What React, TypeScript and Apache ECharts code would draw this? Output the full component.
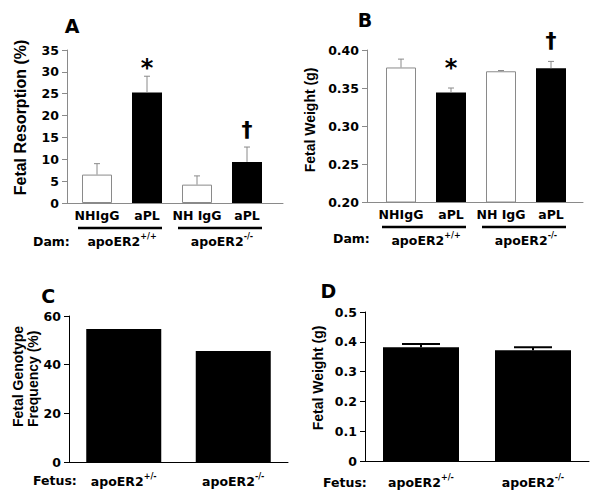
import React, { useEffect, useRef } from 'react';
import * as echarts from 'echarts';

const SANS = '"DejaVu Sans", sans-serif';
const ARIAL = '"Liberation Sans", Arial, sans-serif';
const GREY = '#8a8a8a';

// ---- Panel A: fetal resorption (%) by dam genotype / treatment ----
const aCategories = ['NHIgG', 'aPL', 'NH IgG', 'aPL'];
const aValues = [6.5, 25.3, 4.2, 9.4];
const aErrors = [2.5, 3.7, 2.0, 3.4];
const aMarkSymbols = ['*', '\u2020'];
const aMarkCats = [2, 4];
const aMarkY = [30.9, 16.9];

// ---- Panel B: fetal weight (g) by dam genotype / treatment ----
const bCategories = ['NHIgG', 'aPL', 'NH IgG', 'aPL'];
const bValues = [0.377, 0.344, 0.372, 0.376];
const bErrors = [0.011, 0.006, 0.001, 0.009];
const bMarkSymbols = ['*', '\u2020'];
const bMarkCats = [2, 4];
const bMarkY = [0.3766, 0.4125];

// dam genotype groups (superscripts of apoER2)
const damGroups = ['+/+', '-/-'];

// ---- Panel C: fetal genotype frequency (%) ----
const fetusGenotypes = ['+/-', '-/-'];
const cValues = [54.7, 45.6];

// ---- Panel D: fetal weight (g) by fetal genotype ----
const dValues = [0.382, 0.372];
const dErrors = [0.011, 0.010];

const tickFont = { color: '#000', fontFamily: SANS, fontWeight: 'bold' as const, fontSize: 12.5 };

const richSup = {
  b: { fontFamily: SANS, fontWeight: 'bold', fontSize: 12.5, color: '#000', lineHeight: 18 },
  s: { fontFamily: SANS, fontWeight: 'bold', fontSize: 8, color: '#000', lineHeight: 9, verticalAlign: 'top' },
};
const supText = (s: string) => `{b|apoER2}{s|${s}}`;

const fillFor = (name: string) =>
  name.startsWith('NH')
    ? { color: '#fff', borderColor: GREY, borderWidth: 1 }
    : { color: '#000' };

function yAxis(gridIndex: number, min: number, max: number, interval: number, color: string, fmt: (v: number) => string) {
  return {
    gridIndex, type: 'value', min, max, interval,
    axisLine: { show: true, lineStyle: { color, width: 1 } },
    axisTick: { show: true, inside: false, length: 5, lineStyle: { color } },
    splitLine: { show: false },
    axisLabel: { ...tickFont, margin: 8, formatter: fmt },
  };
}

function errorSeries(xi: number, data: number[][], color: string, cap: number, width: number) {
  return {
    type: 'custom', xAxisIndex: xi, yAxisIndex: xi, z: 5,
    encode: { x: 0, y: 1 },
    data,
    renderItem: (_p: any, api: any) => {
      const x = api.value(0), v = api.value(1), e = api.value(2);
      const b = api.coord([x, v]);
      const t = api.coord([x, v + e]);
      return {
        type: 'group',
        children: [
          { type: 'line', shape: { x1: b[0], y1: b[1], x2: t[0], y2: t[1] }, style: { stroke: color, lineWidth: width } },
          { type: 'line', shape: { x1: t[0] - cap / 2, y1: t[1], x2: t[0] + cap / 2, y2: t[1] }, style: { stroke: color, lineWidth: width } },
        ],
      };
    },
  };
}

function markSeries(xi: number, cats: number[], ys: number[], symbols: string[]) {
  return {
    type: 'custom', xAxisIndex: xi, yAxisIndex: xi, z: 6,
    encode: { x: 0, y: 1 },
    data: cats.map((c, i) => [c, ys[i]]),
    renderItem: (p: any, api: any) => {
      const pt = api.coord([api.value(0), api.value(1)]);
      const sym = symbols[p.dataIndex];
      const size = sym === '*' ? 24 : 22;
      return {
        type: 'text', x: pt[0], y: pt[1],
        style: {
          text: sym, fill: '#000', font: `bold ${size}px ${SANS}`,
          align: 'center', verticalAlign: 'middle', textAlign: 'center', textVerticalAlign: 'middle',
        },
      };
    },
  };
}

function groupSeries(xi: number, yBase: number) {
  return {
    type: 'custom', xAxisIndex: xi, yAxisIndex: xi, z: 6,
    encode: { x: 0, y: 1 },
    data: damGroups.map((_g, i) => [2 * i + 1.5, yBase]),
    renderItem: (p: any, api: any) => {
      const gi = p.dataIndex;
      const s = api.coord([2 * gi + 1 - 0.38, yBase]);
      const e = api.coord([2 * gi + 2 + 0.3, yBase]);
      const c = api.coord([api.value(0), yBase]);
      return {
        type: 'group',
        children: [
          { type: 'line', shape: { x1: s[0], y1: s[1] + 25, x2: e[0], y2: e[1] + 25 }, style: { stroke: '#000', lineWidth: 2.6 } },
          {
            type: 'text', x: c[0], y: c[1] + 38,
            style: {
              text: supText(damGroups[gi]), rich: richSup, fill: '#000',
              align: 'center', verticalAlign: 'middle', textAlign: 'center', textVerticalAlign: 'middle',
            },
          },
        ],
      };
    },
  };
}

function txt(text: string, x: number, y: number, font: string, extra: any = {}) {
  return {
    type: 'text', x, y, ...extra,
    style: {
      text, font, fill: '#000',
      align: extra.align || 'center', verticalAlign: 'middle',
      textAlign: extra.align || 'center', textVerticalAlign: 'middle',
      lineHeight: extra.lineHeight,
    },
  };
}

export default function App() {
  const ref = useRef<HTMLDivElement>(null);
  useEffect(() => {
    if (!ref.current) return;
    const chart = echarts.init(ref.current, undefined, { renderer: 'svg' });
    const option: any = {
      animation: false,
      backgroundColor: '#fff',
      grid: [
        { left: 67, top: 50, width: 216, height: 153, outerBoundsMode: 'none' },
        { left: 367, top: 50, width: 216, height: 152, outerBoundsMode: 'none' },
        { left: 69, top: 316, width: 219, height: 146, outerBoundsMode: 'none' },
        { left: 365, top: 312, width: 224, height: 149, outerBoundsMode: 'none' },
      ],
      xAxis: [
        {
          gridIndex: 0, type: 'value', min: 0.4, max: 4.72,
          axisLine: { show: true, onZero: false, lineStyle: { color: GREY } },
          axisTick: { show: false }, splitLine: { show: false },
          axisLabel: { ...tickFont, margin: 6, customValues: [1, 2, 3, 4], formatter: (v: number) => aCategories[Math.round(v) - 1] },
        },
        {
          gridIndex: 1, type: 'value', min: 0.32, max: 4.64,
          axisLine: { show: true, onZero: false, lineStyle: { color: GREY } },
          axisTick: { show: false }, splitLine: { show: false },
          axisLabel: { ...tickFont, margin: 6, customValues: [1, 2, 3, 4], formatter: (v: number) => bCategories[Math.round(v) - 1] },
        },
        {
          gridIndex: 2, type: 'category', data: fetusGenotypes,
          axisLine: { show: true, onZero: false, lineStyle: { color: '#000' } },
          axisTick: { show: false },
          axisLabel: { interval: 0, hideOverlap: false, margin: 10, formatter: (v: string) => supText(v), rich: richSup },
        },
        {
          gridIndex: 3, type: 'category', data: fetusGenotypes,
          axisLine: { show: true, onZero: false, lineStyle: { color: '#000' } },
          axisTick: { show: false },
          axisLabel: { interval: 0, hideOverlap: false, margin: 12, formatter: (v: string) => supText(v), rich: richSup },
        },
      ],
      yAxis: [
        yAxis(0, 0, 35, 5, GREY, (v) => String(v)),
        yAxis(1, 0.2, 0.4, 0.05, GREY, (v) => v.toFixed(2)),
        yAxis(2, 0, 60, 20, '#000', (v) => String(v)),
        yAxis(3, 0, 0.5, 0.1, '#000', (v) => (v === 0 ? '0' : v.toFixed(1))),
      ],
      series: [
        {
          type: 'bar', xAxisIndex: 0, yAxisIndex: 0, barWidth: 30,
          data: aValues.map((v, i) => ({ value: [i + 1, v], itemStyle: fillFor(aCategories[i]) })),
        },
        errorSeries(0, aValues.map((v, i) => [i + 1, v, aErrors[i]]), GREY, 6, 1),
        markSeries(0, aMarkCats, aMarkY, aMarkSymbols),
        groupSeries(0, 0),
        {
          type: 'bar', xAxisIndex: 1, yAxisIndex: 1, barWidth: 30,
          data: bValues.map((v, i) => ({ value: [i + 1, v], itemStyle: fillFor(bCategories[i]) })),
        },
        errorSeries(1, bValues.map((v, i) => [i + 1, v, bErrors[i]]), GREY, 6, 1),
        markSeries(1, bMarkCats, bMarkY, bMarkSymbols),
        groupSeries(1, 0.2),
        {
          type: 'bar', xAxisIndex: 2, yAxisIndex: 2, barWidth: 75,
          itemStyle: { color: '#000' },
          data: cValues,
        },
        {
          type: 'bar', xAxisIndex: 3, yAxisIndex: 3, barWidth: 76,
          itemStyle: { color: '#000' },
          data: dValues,
        },
        errorSeries(3, dValues.map((v, i) => [i, v, dErrors[i]]), '#000', 38, 2),
      ],
      graphic: [
        txt('A', 72, 26, `bold 19px ${SANS}`),
        txt('B', 365, 20, `bold 19px ${SANS}`),
        txt('C', 48.3, 296.3, `bold 19px ${SANS}`),
        txt('D', 328.3, 291, `bold 19px ${SANS}`),
        txt('Fetal Resorption (%)', 20, 117.5, `bold 16px ${ARIAL}`, { rotation: Math.PI / 2 }),
        txt('Fetal Weight (g)', 309.5, 120, `bold 14px ${ARIAL}`, { rotation: Math.PI / 2 }),
        txt('Fetal Genotype\nFrequency (%)', 25.7, 427, `bold 14px ${ARIAL}`, { rotation: Math.PI / 2, align: 'left', lineHeight: 15 }),
        txt('Fetal Weight (g)', 317.5, 378, `bold 14px ${ARIAL}`, { rotation: Math.PI / 2 }),
        txt('Dam:', 33, 241, `bold 12.5px ${SANS}`, { align: 'left' }),
        txt('Dam:', 333, 238, `bold 12.5px ${SANS}`, { align: 'left' }),
        txt('Fetus:', 33, 480, `bold 12.5px ${SANS}`, { align: 'left' }),
        txt('Fetus:', 323, 482, `bold 12.5px ${SANS}`, { align: 'left' }),
      ],
    };
    chart.setOption(option);
    return () => chart.dispose();
  }, []);
  return <div ref={ref} style={{ position: 'fixed', left: 0, top: 0, width: 600, height: 497, background: '#fff' }} />;
}
